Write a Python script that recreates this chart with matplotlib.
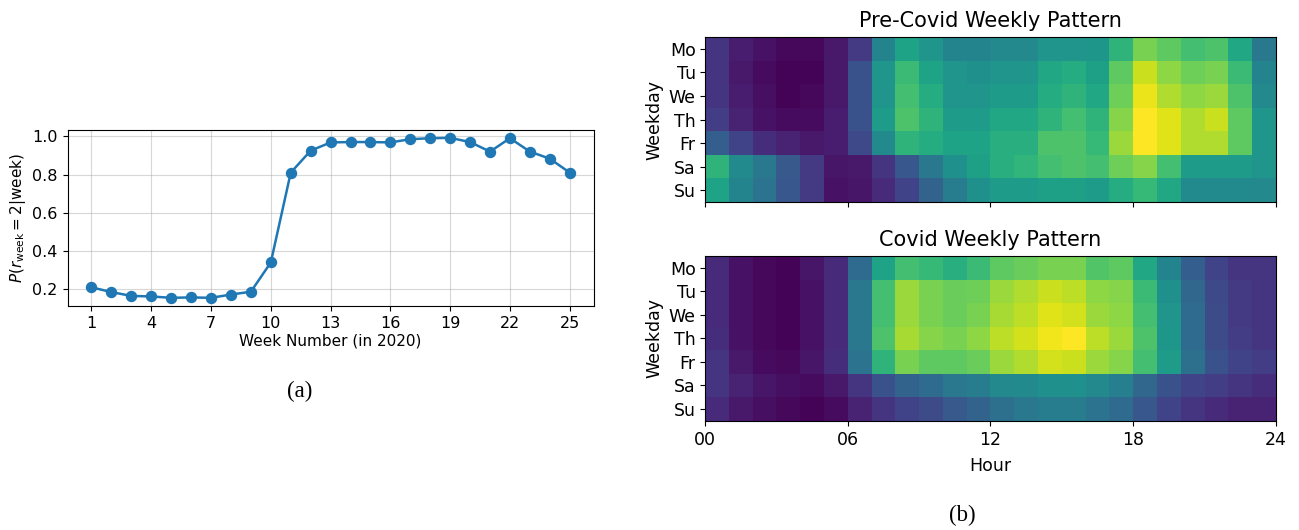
import numpy as np
import matplotlib
matplotlib.use("Agg")
import matplotlib.pyplot as plt

# Weekly probability of regime 2
weeks = np.arange(1, 26)
p_week = [0.21, 0.185, 0.165, 0.162, 0.155, 0.157, 0.155, 0.172, 0.187, 0.34,
          0.81, 0.925, 0.968, 0.97, 0.97, 0.968, 0.985, 0.99, 0.992, 0.97,
          0.92, 0.99, 0.92, 0.883, 0.81]

days = ["Mo", "Tu", "We", "Th", "Fr", "Sa", "Su"]
hour_ticks = [0, 6, 12, 18, 24]
hour_labels = ["00", "06", "12", "18", "24"]

pre_mo = [0.15, 0.08, 0.05, 0.02, 0.02, 0.07, 0.17, 0.45, 0.58, 0.52, 0.45, 0.45, 0.47, 0.47, 0.52, 0.52, 0.53, 0.65, 0.80, 0.75, 0.70, 0.72, 0.60, 0.40]
pre_tu = [0.15, 0.07, 0.03, 0.01, 0.01, 0.07, 0.25, 0.52, 0.68, 0.58, 0.52, 0.50, 0.52, 0.52, 0.60, 0.62, 0.57, 0.75, 0.92, 0.83, 0.78, 0.80, 0.68, 0.45]
pre_we = [0.15, 0.08, 0.04, 0.01, 0.02, 0.07, 0.25, 0.52, 0.70, 0.62, 0.52, 0.52, 0.55, 0.55, 0.62, 0.65, 0.60, 0.78, 0.97, 0.88, 0.83, 0.85, 0.72, 0.47]
pre_th = [0.18, 0.10, 0.05, 0.03, 0.03, 0.08, 0.25, 0.55, 0.72, 0.65, 0.55, 0.55, 0.60, 0.60, 0.65, 0.70, 0.65, 0.82, 1.00, 0.95, 0.88, 0.92, 0.75, 0.52]
pre_fr = [0.30, 0.20, 0.13, 0.10, 0.07, 0.08, 0.22, 0.48, 0.65, 0.62, 0.58, 0.58, 0.63, 0.63, 0.72, 0.72, 0.67, 0.85, 1.00, 0.95, 0.88, 0.88, 0.75, 0.52]
pre_sa = [0.65, 0.48, 0.40, 0.28, 0.17, 0.06, 0.07, 0.15, 0.27, 0.40, 0.50, 0.57, 0.63, 0.66, 0.70, 0.72, 0.70, 0.78, 0.82, 0.70, 0.55, 0.55, 0.55, 0.52]
pre_su = [0.58, 0.45, 0.38, 0.27, 0.17, 0.05, 0.06, 0.12, 0.20, 0.32, 0.42, 0.50, 0.55, 0.55, 0.57, 0.57, 0.55, 0.62, 0.67, 0.60, 0.48, 0.48, 0.48, 0.47]

cov_mo = [0.12, 0.05, 0.02, 0.01, 0.06, 0.12, 0.35, 0.58, 0.70, 0.67, 0.63, 0.68, 0.75, 0.77, 0.80, 0.80, 0.73, 0.75, 0.60, 0.45, 0.30, 0.20, 0.15, 0.15]
cov_tu = [0.12, 0.05, 0.02, 0.01, 0.05, 0.12, 0.40, 0.70, 0.85, 0.80, 0.77, 0.78, 0.85, 0.88, 0.92, 0.90, 0.83, 0.82, 0.68, 0.50, 0.33, 0.22, 0.17, 0.15]
cov_we = [0.12, 0.05, 0.02, 0.01, 0.05, 0.12, 0.40, 0.70, 0.85, 0.80, 0.77, 0.80, 0.87, 0.90, 0.95, 0.93, 0.85, 0.83, 0.70, 0.52, 0.35, 0.23, 0.17, 0.15]
cov_th = [0.13, 0.05, 0.02, 0.01, 0.05, 0.12, 0.40, 0.72, 0.87, 0.82, 0.80, 0.83, 0.90, 0.93, 0.98, 1.00, 0.90, 0.85, 0.72, 0.53, 0.35, 0.23, 0.18, 0.15]
cov_fr = [0.15, 0.07, 0.03, 0.02, 0.06, 0.13, 0.38, 0.65, 0.80, 0.75, 0.75, 0.77, 0.85, 0.88, 0.93, 0.92, 0.85, 0.82, 0.70, 0.55, 0.37, 0.25, 0.20, 0.18]
cov_sa = [0.15, 0.10, 0.06, 0.04, 0.03, 0.07, 0.15, 0.25, 0.32, 0.35, 0.40, 0.42, 0.47, 0.48, 0.50, 0.50, 0.47, 0.43, 0.33, 0.25, 0.20, 0.18, 0.15, 0.13]
cov_su = [0.12, 0.07, 0.04, 0.02, 0.01, 0.03, 0.10, 0.15, 0.20, 0.23, 0.28, 0.32, 0.37, 0.40, 0.42, 0.42, 0.38, 0.35, 0.27, 0.20, 0.15, 0.12, 0.10, 0.10]

pre_covid = np.array([pre_mo, pre_tu, pre_we, pre_th, pre_fr, pre_sa, pre_su])
covid = np.array([cov_mo, cov_tu, cov_we, cov_th, cov_fr, cov_sa, cov_su])

fig = plt.figure(figsize=(12.99, 5.30), dpi=100)

# (a) line plot
ax = fig.add_axes([0.052, 0.423, 0.405, 0.332])
ax.plot(weeks, p_week, "-o", color="#1f77b4", lw=1.8, ms=7.2)
ax.set_xticks(np.arange(1, 26, 3))
ax.set_yticks([0.2, 0.4, 0.6, 0.8, 1.0])
ax.grid(True, alpha=0.5, lw=0.8)
ax.tick_params(labelsize=11.5)
ax.set_xlabel("Week Number (in 2020)", fontsize=11, labelpad=2)
ax.set_ylabel(r"$P(r_\mathrm{week}=2|\mathrm{week})$", fontsize=11, labelpad=3)
fig.text(0.231, 0.262, "(a)", ha="center", va="center", fontsize=16.5, family="Liberation Serif")

# (b) heatmaps
titles = ["Pre-Covid Weekly Pattern", "Covid Weekly Pattern"]
boxes = [[0.543, 0.619, 0.439, 0.311], [0.543, 0.206, 0.439, 0.311]]
for i, (mat, title) in enumerate(zip([pre_covid, covid], titles)):
    axh = fig.add_axes(boxes[i])
    axh.imshow(mat, cmap="viridis", aspect="auto", extent=[0, 24, 7, 0],
               interpolation="nearest", vmin=0, vmax=1)
    axh.set_yticks(np.arange(7) + 0.5)
    axh.set_yticklabels(days)
    axh.set_xticks(hour_ticks)
    if i == 1:
        axh.set_xticklabels(hour_labels)
        axh.set_xlabel("Hour", fontsize=12.5, labelpad=6)
    else:
        axh.set_xticklabels([])
    axh.set_ylabel("Weekday", fontsize=12.5)
    axh.set_title(title, fontsize=15, pad=7)
    axh.tick_params(labelsize=12.5)

fig.text(0.741, 0.028, "(b)", ha="center", va="center", fontsize=16.5, family="Liberation Serif")

fig.savefig("out.png", dpi=100)
